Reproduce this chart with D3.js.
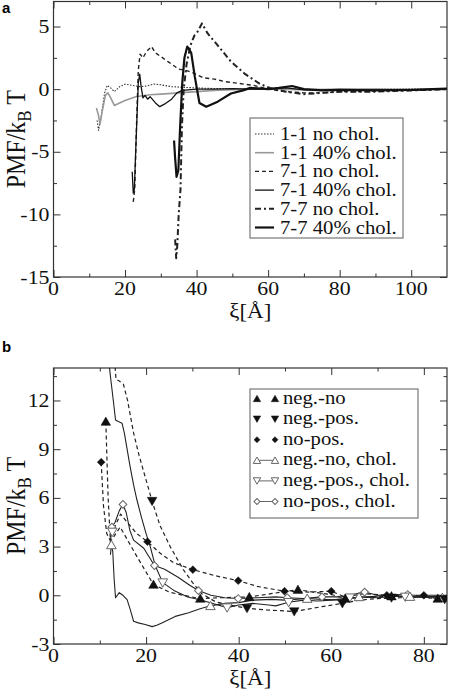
<!DOCTYPE html>
<html><head><meta charset="utf-8">
<script src="https://cdn.jsdelivr.net/npm/d3@7"></script>
<style>body{margin:0;background:#fff}svg{display:block}</style>
</head><body>
<svg id="c" width="450" height="693"></svg>
<script>
// ---------------- DATA ----------------
// Panel a
const aXTicks = [0, 20, 40, 60, 80, 100];
const aXMinor = [10, 30, 50, 70, 90];
const aYTicks = [-15, -10, -5, 0, 5];
const aYMinor = [-12.5, -7.5, -2.5, 2.5];
const aLabels = ["1-1 no chol.", "1-1 40% chol.", "7-1 no chol.", "7-1 40% chol.", "7-7 no chol.", "7-7 40% chol."];

const a11NoChol = [[12.2,-2.5],[12.6,-3.3],[13.3,-2.2],[14.3,-0.3],[15.0,0.3],[16.0,0.1],[17.0,-0.2],[18.5,0.2],[20.0,0.4],[22,0.3],[24,0.2],[26,0.25],[28,0.4],[30,0.35],[33,0.2],[36,0.15],[40,0.1],[45,0.05],[50,0.02],[55,0.0],[60,0.05],[70,0.0],[80,-0.05],[90,0.0],[100,0.0],[110,0.0]];
const a11Chol = [[12.0,-1.5],[12.5,-2.0],[13.0,-2.8],[13.6,-1.8],[14.5,-0.5],[15.2,-0.3],[16.0,-0.7],[17.0,-1.3],[18.5,-1.1],[20,-0.9],[23,-0.6],[27,-0.45],[30,-0.4],[35,-0.3],[40,-0.2],[45,-0.1],[50,-0.05],[55,0.0],[60,0.0],[70,-0.05],[80,0.0],[90,0.0],[100,-0.05],[110,0.0]];
const a71NoChol = [[22.3,-9.0],[22.7,-8.0],[23.2,-3.0],[23.7,1.5],[24.2,2.8],[25.0,2.5],[26.0,3.0],[27.4,3.4],[28.5,2.9],[30,2.6],[32,2.2],[35,1.6],[37,1.5],[39,1.3],[42,0.9],[45,0.8],[48,0.6],[52,0.45],[56,0.3],[60,0.0],[65,-0.2],[70,-0.3],[75,-0.3],[80,-0.2],[85,-0.2],[90,-0.15],[100,-0.1],[110,0.0]];
const a71Chol = [[22.0,-6.6],[22.3,-8.3],[22.6,-8.0],[23.1,-4.0],[23.7,0.5],[24.1,1.2],[24.5,0.2],[25.0,-0.7],[25.6,-0.5],[26.3,-0.8],[27.0,-0.6],[28.5,-1.1],[29.7,-1.4],[31.0,-1.2],[33,-0.8],[34.5,-0.3],[36,-0.1],[40,0.0],[45,0.0],[50,0.05],[55,0.0],[60,0.0],[65,0.1],[70,-0.05],[80,-0.1],[90,-0.05],[100,-0.1],[110,0.05]];
const a77NoChol = [[34.0,-12.0],[34.3,-13.5],[34.6,-12.5],[35.0,-10.0],[35.5,-8.0],[35.9,-3.0],[36.4,0.0],[37.2,2.0],[38.3,3.5],[39.4,4.3],[40.3,4.6],[41.5,5.25],[43.1,4.45],[45.9,3.5],[49.6,2.2],[53.6,1.2],[57.8,0.4],[60.5,0.1],[65,-0.2],[70,-0.4],[75,-0.3],[80,-0.2],[90,-0.2],[100,-0.1],[110,0.0]];
const a77Chol = [[33.7,-4.1],[34.0,-5.5],[34.4,-7.0],[34.9,-6.5],[35.4,-3.0],[36.0,0.5],[36.6,2.5],[37.4,3.4],[38.5,2.9],[39.5,1.0],[40.8,-1.1],[42.7,-1.4],[45.9,-1.0],[49.6,-0.35],[53,-0.1],[55,0.1],[60,0.0],[63,0.1],[66.7,0.25],[70,0.0],[75,-0.1],[80,-0.05],[90,-0.1],[100,-0.05],[110,0.05]];

// Panel b
const bXTicks = [0, 20, 40, 60, 80];
const bXMinor = [10, 30, 50, 70];
const bYTicks = [-3, 0, 3, 6, 9, 12];
const bYMinor = [-1.5, 1.5, 4.5, 7.5, 10.5, 13.5];
const bLabels = ["neg.-no", "neg.-pos.", "no-pos.", "neg.-no, chol.", "neg.-pos., chol.", "no-pos., chol."];

const bNegNo = [[11.3,10.7],[11.8,6.0],[12.3,3.3],[13.0,3.6],[14.4,4.2],[16,3.4],[18,2.4],[21.6,0.66],[25,0.2],[28,0.0],[31.7,-0.2],[36,-0.15],[42.3,-0.1],[47,0.1],[52.8,0.35],[56,0.2],[60,0.05],[63,-0.2],[68,-0.1],[73,-0.05],[78,-0.1],[83,-0.2],[85,-0.2]];
const bNegNoMk = [[11.3,10.7],[21.6,0.66],[31.7,-0.2],[42.3,-0.1],[52.8,0.35],[63,-0.2],[73,-0.05],[83,-0.2]];
const bNegPos = [[13.2,14.5],[13.5,13.3],[14.2,13.2],[15.1,13.0],[16.0,12.0],[17.3,10.0],[18.5,8.6],[19.8,7.3],[21.3,5.8],[23,4.3],[25.2,3.0],[28,1.6],[30,0.8],[32,0.1],[35,-0.4],[38,-0.6],[41.8,-0.8],[46,-0.9],[49,-0.95],[52,-1.0],[55,-0.85],[58,-0.7],[62.4,-0.5],[66,-0.3],[70,-0.2],[75,-0.15],[80,-0.1],[85,-0.25]];
const bNegPosMk = [[21.3,5.8],[41.8,-0.8],[52,-1.0],[62.4,-0.5],[73,-0.15],[84.5,-0.25]];
const bNoPos = [[10.3,8.2],[10.8,5.5],[11.5,3.8],[12.2,3.4],[13.2,4.2],[14.5,5.0],[15.9,4.5],[18,3.8],[20.3,3.3],[23,2.6],[26,2.0],[30.1,1.58],[35,1.2],[39.9,0.9],[44,0.55],[49.9,0.25],[55,0.2],[60,0.25],[63,-0.1],[67,0.1],[72,0.0],[77,0.0],[82,-0.1],[85,-0.1]];
const bNoPosMk = [[10.3,8.2],[20.3,3.3],[30.1,1.58],[39.9,0.9],[49.9,0.25],[60,0.25],[72,0.0],[80,0.0]];
const bNegNoChol = [[12.3,2.5],[12.5,3.1],[12.8,2.7],[13.1,1.0],[13.4,-0.15],[14.2,0.16],[15.0,0.0],[15.9,-0.27],[16.6,-0.9],[17.3,-1.6],[18.3,-1.7],[19.8,-1.8],[21.3,-1.93],[22.3,-1.85],[23.4,-1.7],[26.3,-1.3],[29.2,-1.07],[31.5,-0.85],[33.9,-0.65],[37,-0.5],[40,-0.45],[43,-0.3],[47,-0.25],[50,-0.3],[54.8,-0.2],[58,-0.25],[62,-0.3],[66,-0.1],[70,-0.15],[74,-0.05],[78,-0.1],[82,-0.1],[85,-0.15]];
const bNegNoCholMk = [[12.5,3.1],[33.9,-0.65],[54.8,-0.2],[66,-0.1],[77,-0.08],[84,-0.15]];
const bNegPosChol = [[11.9,14.5],[12.5,13.0],[13.0,11.8],[13.4,10.8],[14.0,10.7],[14.8,10.6],[15.3,10.0],[16.5,8.0],[17.3,6.8],[18.0,5.9],[19.0,4.8],[20.0,3.8],[20.9,3.0],[22.0,1.8],[23.6,0.78],[26,0.3],[29,-0.1],[32,-0.3],[35,-0.55],[37.5,-0.76],[40,-0.6],[43,-0.5],[46.5,-0.6],[48,-0.65],[50.8,-0.43],[54,-0.3],[57,-0.35],[60,-0.3],[64,-0.15],[68,-0.1],[72,0.0],[76,-0.1],[80,-0.1],[85,-0.05]];
const bNegPosCholMk = [[12.7,3.9],[23.6,0.78],[37.5,-0.76],[50.8,-0.43],[64,-0.15],[76,-0.1]];
const bNoPosChol = [[12.2,3.0],[12.6,4.2],[13.3,4.5],[14.2,5.2],[15.0,5.6],[15.7,5.1],[16.5,4.0],[17.3,3.4],[19.5,2.9],[21.8,1.83],[24,1.6],[27,1.1],[29.5,0.6],[31.3,0.29],[34,0.0],[37,-0.15],[39.9,-0.2],[44,-0.15],[48,-0.1],[50.5,-0.15],[54,-0.2],[58,-0.1],[62,-0.1],[67.2,0.2],[70,0.0],[74,0.05],[78,0.0],[82,0.0],[85,0.0]];
const bNoPosCholMk = [[12.6,4.2],[15.0,5.6],[21.8,1.83],[31.3,0.29],[39.9,-0.2],[50.5,-0.15],[58,-0.1],[67.2,0.2],[76.5,0.05]];

// ---------------- DRAWING ----------------
const svg = d3.select("#c");
const SERIF = "Liberation Serif, Times New Roman, serif";
const SX = 1.15; // horizontal stretch of the reference typography

function stext(g, x, y, str, anchor, size) {
  return g.append("text")
    .attr("transform", `translate(${x},${y}) scale(${SX},1)`)
    .attr("text-anchor", anchor)
    .style("font-family", SERIF)
    .attr("font-size", size)
    .attr("fill", "#111")
    .text(str);
}

function panel(cfg) {
  const {x, y, xt, xm, yt, ym, id} = cfg;
  const g = svg.append("g");
  const [x0, x1] = x.range(), [y0, y1] = y.range();
  g.append("clipPath").attr("id", id).append("rect")
    .attr("x", x0).attr("y", y1).attr("width", x1 - x0).attr("height", y0 - y1);

  const axes = [
    [d3.axisBottom(x), `translate(0,${y0})`, xt, xm],
    [d3.axisTop(x), `translate(0,${y1})`, xt, xm],
    [d3.axisLeft(y), `translate(${x0},0)`, yt, ym],
    [d3.axisRight(y), `translate(${x1},0)`, yt, ym]
  ];
  axes.forEach(([ax, tr, maj, min]) => {
    const a1 = g.append("g").attr("transform", tr)
      .call(ax.tickValues(maj).tickSize(-7).tickFormat(""));
    a1.select(".domain").remove();
    const a2 = g.append("g").attr("transform", tr)
      .call(ax.tickValues(min).tickSize(-3.5).tickFormat(""));
    a2.select(".domain").remove();
  });
  g.selectAll(".tick line").attr("stroke", "#333").attr("stroke-width", 1);
  g.append("rect").attr("x", x0).attr("y", y1).attr("width", x1 - x0).attr("height", y0 - y1)
    .attr("fill", "none").attr("stroke", "#333").attr("stroke-width", 1.2);

  xt.forEach(v => stext(g, x(v), y0 + 18, String(v), "middle", 19));
  yt.forEach(v => stext(g, x0 - 4, y(v) + 6.5, String(v), "end", 19));

  stext(g, (x0 + x1) / 2, y0 + 41, "ξ[Å]", "middle", 20);
  const yl = g.append("text")
    .attr("transform", `translate(25,${(y0 + y1) / 2}) rotate(-90) scale(1,${SX})`)
    .attr("text-anchor", "middle").style("font-family", SERIF).attr("font-size", 24).attr("fill", "#111");
  yl.append("tspan").text("PMF/k");
  yl.append("tspan").attr("font-size", 17).attr("dy", 5).text("B");
  yl.append("tspan").attr("dy", -5).text(" T");
  return g;
}

// Panel a
const xA = d3.scaleLinear([0, 110], [53.5, 447]);
const yA = d3.scaleLinear([-15, 7], [277, 1.5]);
const gA = panel({x: xA, y: yA, xt: aXTicks, xm: aXMinor, yt: aYTicks, ym: aYMinor, id: "clipA"});
const lineA = d3.line().x(d => xA(d[0])).y(d => yA(d[1]));
const aSeries = [
  {data: a11NoChol, stroke: "#333", w: 1.1, dash: "1.5,1.5"},
  {data: a11Chol, stroke: "#999", w: 1.6, dash: null},
  {data: a71NoChol, stroke: "#222", w: 1.4, dash: "4,3"},
  {data: a71Chol, stroke: "#111", w: 1.3, dash: null},
  {data: a77NoChol, stroke: "#222", w: 2, dash: "6,3,2,3"},
  {data: a77Chol, stroke: "#111", w: 2.2, dash: null}
];
const plotA = gA.append("g").attr("clip-path", "url(#clipA)");
aSeries.forEach(s => {
  plotA.append("path").datum(s.data).attr("d", lineA)
    .attr("fill", "none").attr("stroke", s.stroke).attr("stroke-width", s.w)
    .attr("stroke-dasharray", s.dash).attr("stroke-linejoin", "round");
});
const legA = gA.append("g");
legA.append("rect").attr("x", 250).attr("y", 118).attr("width", 153).attr("height", 120)
  .attr("fill", "#fff").attr("stroke", "#777").attr("stroke-width", 1.2);
aSeries.forEach((s, i) => {
  const cy = 134 + 18.7 * i;
  legA.append("line").attr("x1", 255).attr("x2", 274).attr("y1", cy).attr("y2", cy)
    .attr("stroke", s.stroke).attr("stroke-width", s.w).attr("stroke-dasharray", s.dash);
  stext(legA, 280, cy + 6, aLabels[i], "start", 18);
});

// Panel b
const xB = d3.scaleLinear([0, 85], [53.5, 447]);
const yB = d3.scaleLinear([-3, 14], [644, 368]);
const gB = panel({x: xB, y: yB, xt: bXTicks, xm: bXMinor, yt: bYTicks, ym: bYMinor, id: "clipB"});
const lineB = d3.line().x(d => xB(d[0])).y(d => yB(d[1]));
const triUp = d3.symbol().type(d3.symbolTriangle);
const sq = d3.symbol().type(d3.symbolSquare);
const bSeries = [
  {data: bNegNo, mk: bNegNoMk, dash: "4,3", stroke: "#222", w: 1.2, shape: "up", filled: true},
  {data: bNegPos, mk: bNegPosMk, dash: "4,3", stroke: "#222", w: 1.2, shape: "down", filled: true},
  {data: bNoPos, mk: bNoPosMk, dash: "4,3", stroke: "#222", w: 1.2, shape: "dia", filled: true},
  {data: bNegNoChol, mk: bNegNoCholMk, dash: null, stroke: "#222", w: 1.1, shape: "up", filled: false},
  {data: bNegPosChol, mk: bNegPosCholMk, dash: null, stroke: "#222", w: 1.1, shape: "down", filled: false},
  {data: bNoPosChol, mk: bNoPosCholMk, dash: null, stroke: "#222", w: 1.1, shape: "dia", filled: false}
];
function marker(g, s, px, py, size) {
  let p;
  if (s.shape === "up") p = g.append("path").attr("d", triUp.size(size)()).attr("transform", `translate(${px},${py + 1})`);
  else if (s.shape === "down") p = g.append("path").attr("d", triUp.size(size)()).attr("transform", `translate(${px},${py - 1}) rotate(180)`);
  else p = g.append("path").attr("d", sq.size(size * 0.75)()).attr("transform", `translate(${px},${py}) rotate(45)`);
  if (s.filled) p.attr("fill", "#111").attr("stroke", "#111").attr("stroke-width", 0.5);
  else p.attr("fill", "#fff").attr("stroke", "#666").attr("stroke-width", 1);
}
const plotB = gB.append("g").attr("clip-path", "url(#clipB)");
bSeries.forEach(s => {
  plotB.append("path").datum(s.data).attr("d", lineB)
    .attr("fill", "none").attr("stroke", s.stroke).attr("stroke-width", s.w)
    .attr("stroke-dasharray", s.dash).attr("stroke-linejoin", "round");
});
bSeries.slice().reverse().forEach(s => {
  s.mk.forEach(d => marker(plotB, s, xB(d[0]), yB(d[1]), 40));
});
const legB = gB.append("g");
legB.append("rect").attr("x", 250).attr("y", 389).attr("width", 168).attr("height", 129)
  .attr("fill", "#fff").attr("stroke", "#777").attr("stroke-width", 1.2);
bSeries.forEach((s, i) => {
  const cy = 398.5 + 20.6 * i;
  legB.append("line").attr("x1", 257).attr("x2", 275).attr("y1", cy).attr("y2", cy)
    .attr("stroke", s.filled ? "none" : "#666").attr("stroke-width", 1);
  marker(legB, s, 257, cy, 24);
  marker(legB, s, 275, cy, 24);
  stext(legB, 283, cy + 5, bLabels[i], "start", 18);
});

svg.append("text").attr("x", 2).attr("y", 13).style("font-family", "Liberation Sans, Arial, sans-serif")
  .attr("font-weight", "bold").attr("font-size", 15).text("a");
svg.append("text").attr("x", 2).attr("y", 352).style("font-family", "Liberation Sans, Arial, sans-serif")
  .attr("font-weight", "bold").attr("font-size", 15).text("b");
</script>
</body></html>
